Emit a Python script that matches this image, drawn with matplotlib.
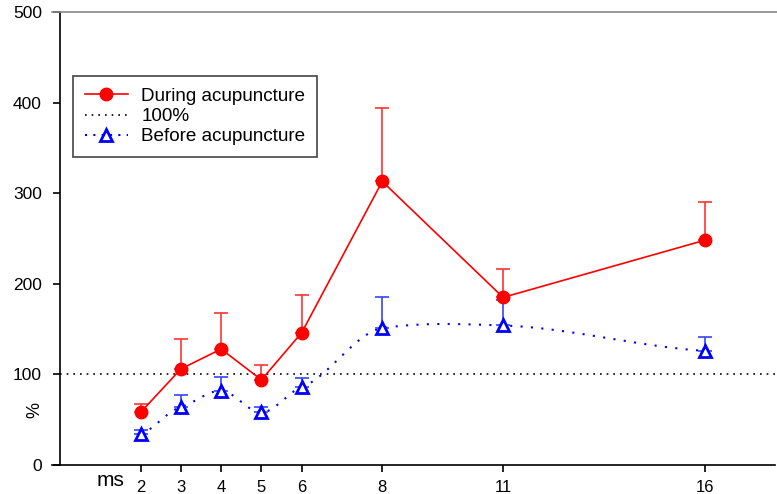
import numpy as np
import matplotlib.pyplot as plt
from matplotlib.lines import Line2D

plt.rcParams['font.family'] = ['Liberation Sans', 'DejaVu Sans']

ms = [2, 3, 4, 5, 6, 8, 11, 16]
during = [58, 106, 128, 94, 146, 313, 185, 248]
during_err = [9, 33, 40, 16, 42, 81, 31, 42]
before = [34, 64, 82, 58, 86, 151, 154, 126]
before_err = [5, 13, 15, 6, 10, 34, 28, 15]
baseline = 100


def smooth_line(x, y, tension=0.5, n=60):
    # cardinal (Hermite) spline through the points, tangents scaled down by tension
    x = np.asarray(x, float)
    y = np.asarray(y, float)
    k = len(x)
    m = np.zeros(k)
    m[0] = (y[1] - y[0]) / (x[1] - x[0])
    m[-1] = (y[-1] - y[-2]) / (x[-1] - x[-2])
    for i in range(1, k - 1):
        m[i] = (y[i + 1] - y[i - 1]) / (x[i + 1] - x[i - 1])
    m *= tension
    xs_all, ys_all = [], []
    for i in range(k - 1):
        h = x[i + 1] - x[i]
        t = np.linspace(0, 1, n)
        h00 = 2 * t ** 3 - 3 * t ** 2 + 1
        h10 = t ** 3 - 2 * t ** 2 + t
        h01 = -2 * t ** 3 + 3 * t ** 2
        h11 = t ** 3 - t ** 2
        xs_all.append(x[i] + t * h)
        ys_all.append(h00 * y[i] + h10 * h * m[i] + h01 * y[i + 1] + h11 * h * m[i + 1])
    return np.concatenate(xs_all), np.concatenate(ys_all)


fig = plt.figure(figsize=(7.77, 4.94), dpi=100)
ax = fig.add_axes([60 / 777, 29 / 494, 715 / 777, 453 / 494])

# baseline
ax.axhline(baseline, color='black', linestyle=(0, (1, 3)), linewidth=1.2, zorder=1)

# before: smooth dotted curve + open triangles
sx, sy = smooth_line(ms, before)
ax.plot(sx, sy, color='blue', linestyle=(0, (1, 4)), linewidth=1.5, zorder=2)
ax.errorbar(ms, before, yerr=[np.zeros(len(before)), before_err], fmt='none',
            ecolor='#3344ff', elinewidth=1.2, capsize=5, capthick=1.2, zorder=3)
ax.plot(ms, before, linestyle='none', marker='^', markersize=9, markerfacecolor='white',
        markeredgecolor='blue', markeredgewidth=2, zorder=4)

# during: solid red line + filled circles
ax.errorbar(ms, during, yerr=[np.zeros(len(during)), during_err], fmt='none',
            ecolor='#ff3333', elinewidth=1.2, capsize=5, capthick=1.2, zorder=5)
ax.plot(ms, during, color='red', linewidth=1.2, marker='o', markersize=9,
        markerfacecolor='red', markeredgecolor='red', zorder=6)

# legend proxies
h1, = ax.plot([], [], color='red', linewidth=1.2, marker='o', markersize=9)
h2, = ax.plot([], [], color='black', linestyle=(0, (1, 3)), linewidth=1.2)
h3, = ax.plot([], [], color='blue', linestyle=(0, (1, 3)), linewidth=1.5, marker='^',
              markersize=8, markerfacecolor='white', markeredgecolor='blue', markeredgewidth=2)
leg = ax.legend([h1, h2, h3], ['During acupuncture', '100%', 'Before acupuncture'],
                loc='upper left', bbox_to_anchor=(13 / 715, 389 / 453), borderaxespad=0,
                fontsize=13.6, fancybox=False, framealpha=1, edgecolor='#444444',
                borderpad=0.62, labelspacing=0.16, handlelength=2.3, handletextpad=0.7)
leg.get_frame().set_linewidth(1.2)

ax.set_xlim(0, 17.75)
ax.set_ylim(0, 500)
ax.set_xticks(ms)
ax.set_yticks([0, 100, 200, 300, 400, 500])
for s in ['top', 'right']:
    ax.spines[s].set_visible(False)
ax.spines['left'].set_linewidth(1.2)
ax.spines['bottom'].set_linewidth(1.2)
ax.spines['bottom'].set_bounds(-0.2, 17.75)
ax.tick_params(axis='both', direction='out', length=5, width=1.2, labelsize=12.5)
ax.tick_params(axis='y', pad=8)
ax.tick_params(axis='x', labelsize=12, pad=5.5)

# thin gray rule along the top
fig.add_artist(Line2D([52 / 777, 1], [1 - 12 / 494, 1 - 12 / 494], color='#888888',
                      linewidth=1.2, transform=fig.transFigure))

fig.text(35 / 777, 1 - 410 / 494, '%', rotation=90, fontsize=13, ha='center', va='center')
fig.text(111 / 777, 1 - 480 / 494, 'ms', fontsize=15, ha='center', va='center')

fig.savefig('out.png', dpi=100)
